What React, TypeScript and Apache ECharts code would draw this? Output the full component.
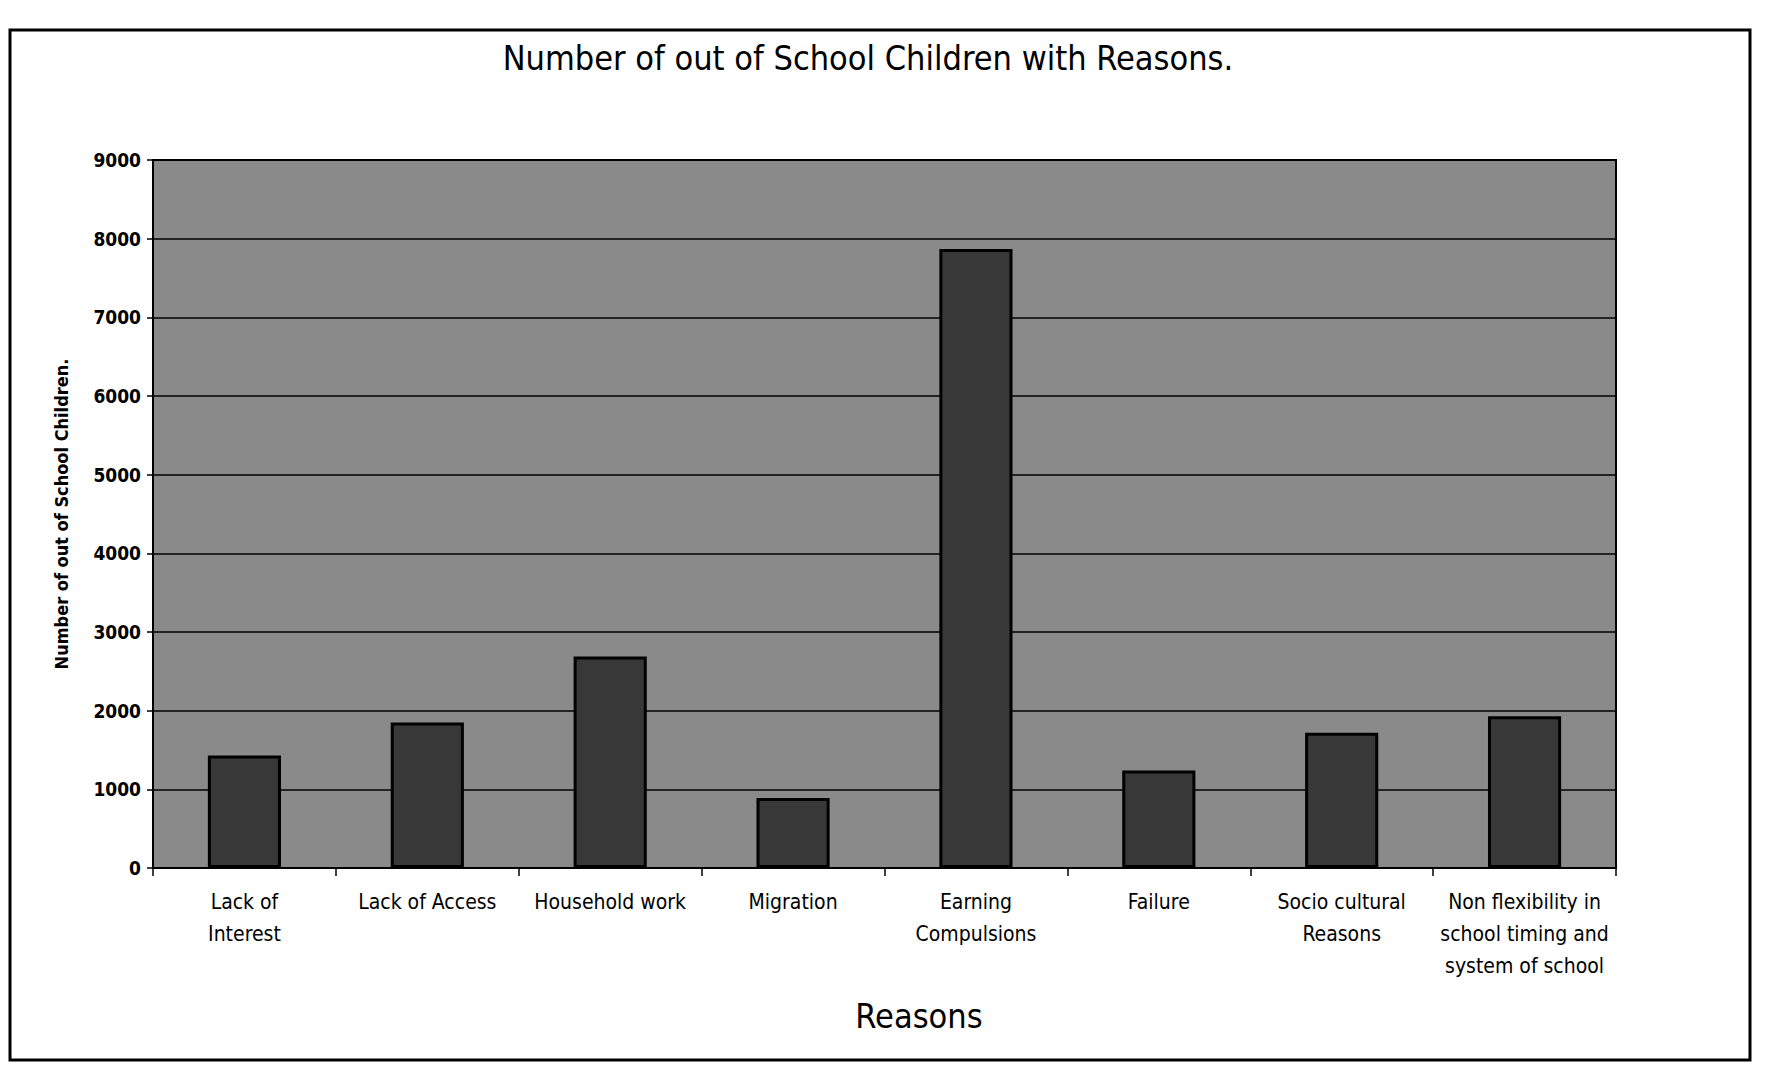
import React, { useEffect, useRef } from "react";
import * as echarts from "echarts";

// Reasons given for children being out of school, with counts
const reasons = [
  "Lack of\nInterest",
  "Lack of Access",
  "Household work",
  "Migration",
  "Earning\nCompulsions",
  "Failure",
  "Socio cultural\nReasons",
  "Non flexibility in\nschool timing and\nsystem of school",
];
const childrenCounts = [1430, 1850, 2690, 890, 7870, 1240, 1720, 1930];

// Value axis range
const yMin = 0;
const yMax = 9000;
const yStep = 1000;

const titleText = "Number of out of School Children with Reasons.";
const yAxisTitle = "Number of out of School Children.";
const xAxisTitle = "Reasons";

const FONT = "'DejaVu Sans Condensed', 'DejaVu Sans', sans-serif";

export default function App() {
  const ref = useRef<HTMLDivElement>(null);

  useEffect(() => {
    if (!ref.current) return;
    const chart = echarts.init(ref.current, null, { renderer: "svg" });
    chart.setOption({
      animation: false,
      backgroundColor: "#ffffff",
      textStyle: { fontFamily: FONT, color: "#000" },
      graphic: [
        {
          type: "rect",
          shape: { x: 10, y: 30, width: 1740, height: 1030 },
          style: { fill: "none", stroke: "#000", lineWidth: 3 },
          silent: true,
        },
        {
          type: "text",
          x: 868,
          y: 58,
          style: {
            text: titleText,
            font: `34px ${FONT}`,
            fill: "#000",
            align: "center",
            verticalAlign: "middle",
          },
        },
        {
          type: "text",
          x: 919,
          y: 1016,
          style: {
            text: xAxisTitle,
            font: `34px ${FONT}`,
            fill: "#000",
            align: "center",
            verticalAlign: "middle",
          },
        },
      ],
      grid: {
        left: 153,
        right: 164,
        top: 160,
        bottom: 219,
        show: true,
        backgroundColor: "#8a8a8a",
        borderColor: "#000",
        borderWidth: 2,
      },
      xAxis: {
        type: "category",
        data: reasons,
        axisLine: { show: true, lineStyle: { color: "#000", width: 2 } },
        axisTick: { show: true, length: 8, lineStyle: { color: "#000", width: 1.5 } },
        axisLabel: {
          interval: 0,
          fontSize: 21,
          lineHeight: 32,
          margin: 18,
          color: "#000",
          fontFamily: FONT,
        },
      },
      yAxis: {
        type: "value",
        min: yMin,
        max: yMax,
        interval: yStep,
        name: yAxisTitle,
        nameLocation: "middle",
        nameRotate: 90,
        nameGap: 83,
        nameTextStyle: { fontSize: 18, fontWeight: "bold", fontFamily: FONT, color: "#000" },
        axisLine: { show: true, lineStyle: { color: "#000", width: 2 } },
        axisTick: { show: true, length: 6, lineStyle: { color: "#000", width: 1.5 } },
        axisLabel: {
          fontSize: 19,
          fontWeight: "bold",
          margin: 12,
          color: "#000",
          fontFamily: FONT,
          formatter: (v: number) => String(v),
        },
        splitLine: { show: true, lineStyle: { color: "#000", width: 1.5 } },
      },
      series: [
        {
          type: "bar",
          data: childrenCounts,
          barWidth: "40%",
          itemStyle: { color: "#383838", borderColor: "#000", borderWidth: 3 },
        },
      ],
    });
    return () => chart.dispose();
  }, []);

  return (
    <div
      ref={ref}
      style={{ position: "fixed", left: 0, top: 0, width: 1780, height: 1087 }}
    />
  );
}
